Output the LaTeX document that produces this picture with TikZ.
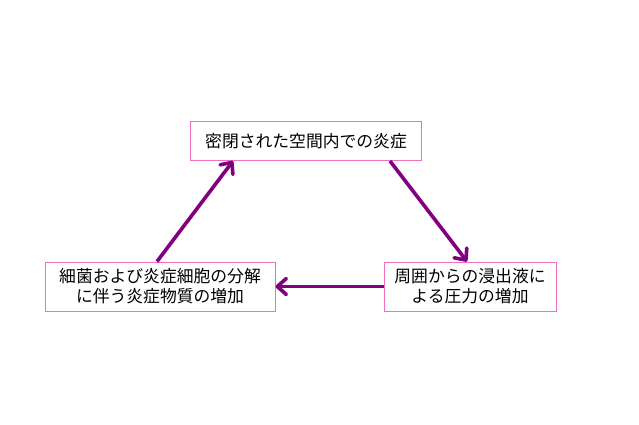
\documentclass[tikz,border=0pt]{standalone}
\usepackage{fontspec}
\setmainfont{Noto Sans CJK JP}
\usetikzlibrary{arrows.meta}
\definecolor{boxpink}{HTML}{F070C0}
\definecolor{arrowpurple}{HTML}{800080}
\tikzset{
  stagebox/.style={draw=boxpink, line width=1pt, fill=white, text=black, align=center,
    font=\fontsize{16.8}{20}\selectfont, inner sep=0pt},
  cyclearrow/.style={draw=arrowpurple, line width=3.6pt,
    -{Straight Barb[length=9pt,width=16pt,line width=3.6pt,round]}}
}
\begin{document}
\begin{tikzpicture}[x=1pt,y=-1pt]
\useasboundingbox (0,0) rectangle (639,425);
\fill[white] (0,0) rectangle (639,425);
\node[stagebox, minimum width=231pt, minimum height=39pt] (top) at (306,141) {密閉された空間内での炎症};
\node[stagebox, minimum width=230pt, minimum height=49pt] (left) at (160,286.5) {細菌および炎症細胞の分解\\に伴う炎症物質の増加};
\node[stagebox, minimum width=172pt, minimum height=49pt] (right) at (470,286.5) {周囲からの浸出液に\\よる圧力の増加};
\draw[cyclearrow] ([xshift=-3pt]left.north) -- ([xshift=-73pt]top.south);
\draw[cyclearrow] ([xshift=84pt]top.south) -- ([xshift=-3pt]right.north);
\draw[cyclearrow] (right.west) -- (left.east);
\end{tikzpicture}
\end{document}
